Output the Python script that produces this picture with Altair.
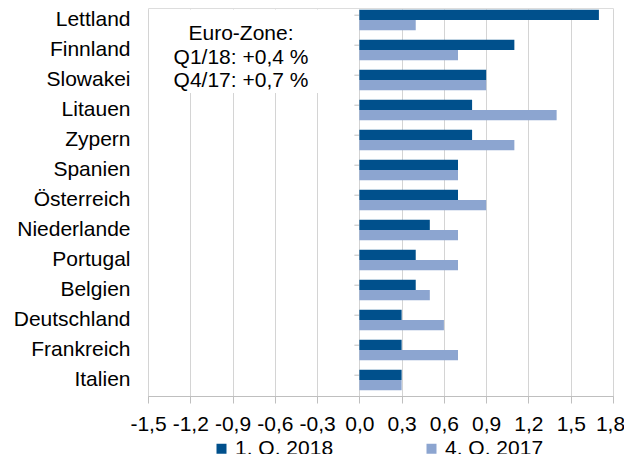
import altair as alt
import pandas as pd

countries = ["Lettland", "Finnland", "Slowakei", "Litauen", "Zypern", "Spanien",
             "Österreich", "Niederlande", "Portugal", "Belgien", "Deutschland",
             "Frankreich", "Italien"]
q1_2018 = [1.7, 1.1, 0.9, 0.8, 0.8, 0.7, 0.7, 0.5, 0.4, 0.4, 0.3, 0.3, 0.3]
q4_2017 = [0.4, 0.7, 0.9, 1.4, 1.1, 0.7, 0.9, 0.7, 0.7, 0.5, 0.6, 0.7, 0.3]
series = ["1. Q. 2018", "4. Q. 2017"]
colors = ["#00508C", "#8CA5D0"]
tick_values = [-1.5, -1.2, -0.9, -0.6, -0.3, 0.0, 0.3, 0.6, 0.9, 1.2, 1.5, 1.8]
note = "Euro-Zone:\nQ1/18: +0,4 %\nQ4/17: +0,7 %"

rows = []
for c, a, b in zip(countries, q1_2018, q4_2017):
    rows.append({"Land": c, "Serie": series[0], "Wert": a})
    rows.append({"Land": c, "Serie": series[1], "Wert": b})
df = pd.DataFrame(rows)

yscale = alt.Scale(domain=countries, paddingInner=0.32, paddingOuter=0.16, range=[-3, 387])
xscale = alt.Scale(domain=[tick_values[0], tick_values[-1]], nice=False, zero=False)

bars = alt.Chart(df).mark_bar().encode(
    y=alt.Y("Land:N", scale=yscale, sort=countries,
            axis=alt.Axis(title=None, ticks=False, domain=False, labelPadding=18,
                          labelFontSize=21, labelColor="black", grid=False)),
    yOffset=alt.YOffset("Serie:N", sort=series,
                        scale=alt.Scale(domain=series, paddingInner=0, paddingOuter=0)),
    x=alt.X("Wert:Q", scale=xscale,
            axis=alt.Axis(title=None, values=tick_values,
                          labelExpr="(datum.value < 0 ? '-' : '') + replace(format(abs(datum.value), '.1f'), '.', ',')",
                          labelFontSize=21, labelColor="black", grid=True,
                          gridColor="#D4D4D4", domainColor="#BFBFBF", tickColor="#BFBFBF",
                          tickSize=7, labelPadding=10, labelOverlap=False, labelFlush=False,
                          labelOffset={"condition": {"test": "datum.value > 1.75", "value": -3}, "value": 0})),
    color=alt.Color("Serie:N", scale=alt.Scale(domain=series, range=colors),
                    legend=alt.Legend(title=None, orient="none", direction="horizontal",
                                      legendX=63, legendY=430, symbolType="square",
                                      symbolSize=100, symbolStrokeWidth=0, labelFontSize=21,
                                      labelColor="black", columnPadding=87, labelOffset=3,
                                      padding=0)),
)

ticks_df = pd.DataFrame({"Land": countries})
cat_ticks = alt.Chart(ticks_df).mark_rule(color="#BFBFBF", xOffset=-5, yOffset=-4.8).encode(
    y=alt.Y("Land:N", scale=yscale, sort=countries),
    x=alt.datum(0.0),
    x2=alt.datum(0.0),
)

box = alt.Chart(pd.DataFrame({"t": [note]})).mark_rect(color="white").encode(
    x=alt.value(17), x2=alt.value(174), y=alt.value(2), y2=alt.value(85)
)
text = alt.Chart(pd.DataFrame({"t": [note]})).mark_text(
    fontSize=21, lineBreak="\n", lineHeight=23.5, align="center", baseline="middle", color="black"
).encode(text="t:N", x=alt.value(93), y=alt.value(26))

chart = alt.layer(cat_ticks, bars, box, text).properties(
    width=465, height=388,
    autosize=alt.AutoSizeParams(type="none"),
    padding={"left": 140, "top": 0, "right": 11, "bottom": 58},
).configure_view(stroke=None).configure(font="Liberation Sans")

chart.save("out.html", embed_options={"renderer": "svg", "actions": False})
